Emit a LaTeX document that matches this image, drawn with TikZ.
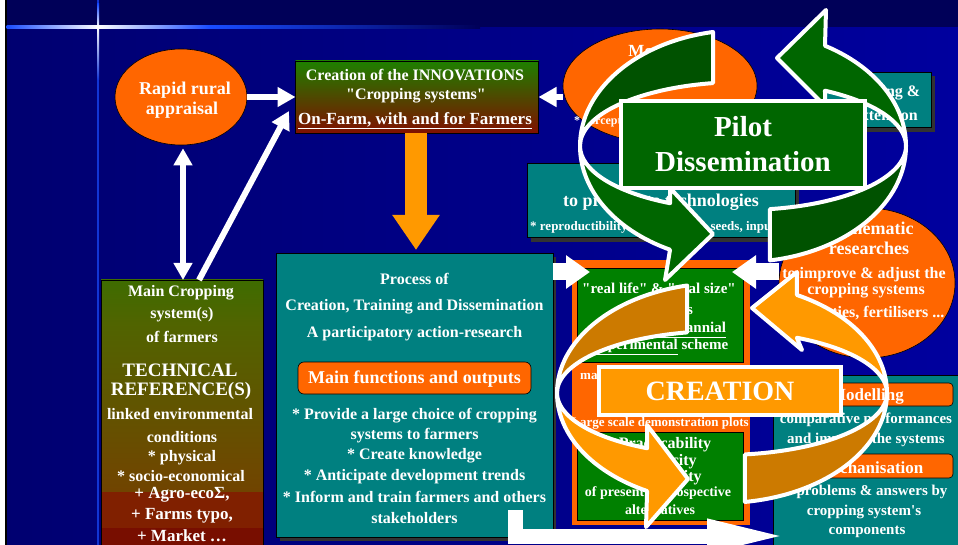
\documentclass[tikz,border=0pt]{standalone}
\usepackage{fontspec}
\setmainfont{Liberation Serif}
\usetikzlibrary{arrows.meta,shapes.geometric,calc}
\newcommand{\setfs}[1]{\fontsize{#1}{#1}\selectfont}
\newcommand{\dq}{\XeTeXglyph\XeTeXcharglyph"22\relax}
\newcommand{\sq}{\XeTeXglyph\XeTeXcharglyph"27\relax}
\definecolor{bgtop}{RGB}{0,0,88}
\definecolor{bgleft}{RGB}{0,0,112}
\definecolor{bgright}{RGB}{0,0,158}
\definecolor{sparkb}{RGB}{25,75,255}
\definecolor{tealc}{RGB}{0,128,128}
\definecolor{orng}{RGB}{255,102,0}
\definecolor{ltorng}{RGB}{255,153,0}
\definecolor{dkorng}{RGB}{204,122,0}
\definecolor{grn}{RGB}{0,128,0}
\definecolor{pgreen}{RGB}{0,102,0}
\definecolor{pdark}{RGB}{0,82,0}
\definecolor{shadowc}{RGB}{50,50,50}
\definecolor{cgTop}{RGB}{30,128,0}
\definecolor{cgMid}{RGB}{95,90,0}
\definecolor{cgBot}{RGB}{128,16,0}
\definecolor{mc1}{RGB}{18,128,0}
\definecolor{mc2}{RGB}{80,100,0}
\definecolor{mc3}{RGB}{110,72,0}
\definecolor{mc4}{RGB}{122,46,0}
\definecolor{mcr1}{RGB}{128,32,0}
\definecolor{mcr2}{RGB}{120,14,0}
\pgfdeclareverticalshading{mcsh}{100bp}{color(0bp)=(mc4); color(30bp)=(mc3); color(65bp)=(mc2); color(100bp)=(mc1)}
\begin{document}
\begin{tikzpicture}[x=1pt,y=-1pt,
  tx/.style={text=white,inner sep=0pt,align=center},
  fb/.style={tx,font=\bfseries\setfs{#1}},
  warrow/.style={draw=white,line width=6pt,-{Triangle[length=18pt,width=19pt]}},
  wdarrow/.style={draw=white,line width=6pt,{Triangle[length=17pt,width=18pt]}-{Triangle[length=17pt,width=18pt]}},
  bigw/.style={draw=white,line width=17pt,-{Triangle[length=24pt,width=32pt]}},
  ringline/.style={draw=white,line width=4pt,line join=round},
  tealbox/.style={fill=tealc,draw=black,line width=0.6pt,inner sep=0pt},
  plain/.style={inner sep=0pt,outer sep=0pt}]
\useasboundingbox (0,0) rectangle (958,545);
\begin{scope}
\clip (0,0) rectangle (958,545);
% ---------- background ----------
\shade[left color=bgleft,right color=bgright] (0,27) rectangle (958,545);
\fill[bgtop] (0,0) rectangle (958,27);
\fill[white] (0,0) rectangle (5,545);
\fill[black] (5,0) rectangle (6.5,545);
\fill[sparkb!70!bgleft] (97.3,0) rectangle (98.7,545);
\shade[left color=sparkb,right color=white] (6.5,26) rectangle (98,28.4);
\shade[left color=white,right color=sparkb] (98,26) rectangle (210,28.4);
\shade[left color=sparkb,right color=bgtop] (210,26) rectangle (480,28.4);
\shade[top color=sparkb,bottom color=white] (97,4) rectangle (99,27);
\shade[top color=white,bottom color=sparkb!70!bgleft] (97,27) rectangle (99,80);
\fill[white] (98,27.2) circle (2.2);

% ---------- left column ----------
\node[ellipse,fill=orng,draw=black,line width=0.6pt,minimum width=132pt,minimum height=96pt,inner sep=0pt] (rra) at (181,97) {};
\node[fb=18] (rra1) at (185,90) {Rapid rural};
\node[fb=18] (rra2) at (182,110) {appraisal};

\node[plain,minimum width=243pt,minimum height=72pt,top color=cgTop,middle color=cgMid,bottom color=cgBot,draw=black,line width=0.6pt] (creat) at (417,97) {};
\node[fb=16] (ct1) at (415,75) {Creation of the INNOVATIONS};
\node[fb=16] (ct2) at (416,96) {\dq Cropping systems\dq};
\node[fb=17] (ct3) at (415,121) {\underline{On-Farm, with and for Farmers}};

\shade[shading=mcsh] (101,280) rectangle (263,492);
\fill[mcr1] (101,492) rectangle (263,528);
\fill[mcr2] (101,528) rectangle (263,545);
\node[plain,minimum width=162pt,minimum height=266pt,draw=black,line width=0.6pt] (mcs) at (182,413) {};
\node[fb=16] (m1) at (181,293) {Main Cropping};
\node[fb=16] (m2) at (182,315) {system(s)};
\node[fb=16] (m3) at (182,337) {of farmers};
\node[fb=19] (m4) at (180,370) {TECHNICAL};
\node[fb=19] (m5) at (181,391) {REFERENCE(S)};
\node[fb=16] (m6) at (180,414) {linked environmental};
\node[fb=16] (m7) at (182,437) {conditions};
\node[fb=16] (m8) at (182,458) {* physical};
\node[fb=16] (m9) at (181,476) {* socio-economical};
\node[fb=17] (m10) at (182,495) {+ Agro-ecoΣ,};
\node[fb=17] (m11) at (182,516) {+ Farms typo,};
\node[fb=17] (m12) at (182,536) {+ Market …};

\draw[warrow] (rra.east) -- (creat.west);
\draw[wdarrow,shorten <=3pt] (rra.south -| 183,0) -- (183,280);
\coordinate (dtip) at (289,111);
\draw[warrow] ($(mcs.north)+(17,0)$) -- (dtip);

% ---------- process box ----------
\fill[shadowc] (280,257) rectangle (556,541);
\node[tealbox,minimum width=277pt,minimum height=284pt] (proc) at (414.5,395) {};
\node[fb=16] (p1) at (414.5,279) {Process of};
\node[fb=16] (p2) at (414.5,307) {Creation, Training and Dissemination};
\node[fb=16] (p3) at (414.5,334) {A participatory action-research};
\node[plain,fill=orng,draw=black,line width=0.6pt,rounded corners=6pt,minimum width=233pt,minimum height=32pt] (mfo) at (414.5,378) {};
\node[fb=18] (mfot) at (414.5,379) {Main functions and outputs};
\node[fb=16] (b1) at (414.5,416) {* Provide a large choice of cropping};
\node[fb=16] (b2) at (414.5,436) {systems to farmers};
\node[fb=16] (b3) at (414.5,456) {* Create knowledge};
\node[fb=16] (b4) at (414.5,477) {* Anticipate development trends};
\node[fb=16] (b5) at (414.5,497) {* Inform and train farmers and others};
\node[fb=16] (b6) at (414.5,518) {stakeholders};

\coordinate (otip) at (416,250);
\draw[draw=ltorng,line width=22pt,-{Triangle[length=35pt,width=45pt]}] (creat.south -| otip) -- (otip);

% ---------- top right items ----------
\node[ellipse,fill=orng,draw=black,line width=0.6pt,minimum width=194pt,minimum height=114pt,inner sep=0pt] (tell) at (660,86) {};
\node[fb=17] (tell1) at (670,52) {Monitoring};
\node[fb=12,anchor=west] (tell2) at (574,122) {* perception of farmers};
\draw[warrow] (tell.west |- creat.east) -- (creat.east);

\fill[shadowc] (821,76) rectangle (935,132);
\node[tealbox,minimum width=114pt,minimum height=55pt] (trb) at (874,99.5) {};
\node[fb=16] (trb1) at (882,93) {Training \&};
\node[fb=16] (trb2) at (884,115) {Extension};

\fill[shadowc] (531,167) rectangle (799,242);
\node[tealbox,minimum width=268pt,minimum height=74pt] (tpb) at (661,200) {};
\node[fb=18] (tp1) at (661,202) {to propagate technologies};
\node[fb=13,anchor=west] (tp2) at (530,227) {* reproductibility of techniques, seeds, inputs ...};

\node[ellipse,fill=orng,draw=black,line width=0.6pt,minimum width=176pt,minimum height=150pt,inner sep=0pt] (rell) at (867,283) {};
\node[fb=18] (r1) at (877,228) {Thematic};
\node[fb=18] (r2) at (869,248) {researches};
\node[fb=16] (r3) at (864,275) {to improve \& adjust the};
\node[fb=16] (r4) at (866,291) {cropping systems};
\node[fb=16] (r5) at (871,313) {varieties, fertilisers ...};

% ---------- central frame ----------
\node[plain,fill=orng,minimum width=178pt,minimum height=265pt] (frm) at (661,392.5) {};
\node[plain,fill=grn,draw=black,line width=0.6pt,minimum width=166pt,minimum height=94pt] (g1) at (660,315) {};
\node[plain,fill=grn,draw=black,line width=0.6pt,minimum width=166pt,minimum height=88pt] (g2) at (660,476) {};
\node[fb=15] (g1a) at (659,288) {\dq real life\dq{} \& \dq real size\dq};
\node[fb=15] (g1b) at (660,309) {conditions};
\node[fb=15] (g1c) at (658,330) {On-farm, \underline{pluriannial}};
\node[fb=15] (g1d) at (661,347) {\underline{experimental} scheme};
\node[fb=13,anchor=west] (fm1) at (580,375) {main};
\node[fb=13] (fm2) at (660,423) {Large scale demonstration plots};
\node[fb=16] (g2a) at (665,445) {Practicability};
\node[fb=16] (g2b) at (662,462) {Simplicity};
\node[fb=16] (g2c) at (660,478) {Profitability};
\node[fb=14] (g2d) at (658,493) {of present \& prospective};
\node[fb=14] (g2e) at (660,510) {alternatives};

% ---------- bottom right box ----------
\node[tealbox,minimum width=190pt,minimum height=176pt] (rbt) at (868,463) {};
\node[plain,fill=orng,draw=black,line width=0.6pt,rounded corners=4pt,minimum width=176pt,minimum height=23pt] (mod) at (865,394.5) {};
\node[fb=17] (modt) at (867,396) {Modelling};
\node[fb=15] (rb1) at (866,420) {comparative performances};
\node[fb=15] (rb2) at (866,440) {and improve the systems};
\node[plain,fill=orng,draw=black,line width=0.6pt,rounded corners=4pt,minimum width=176pt,minimum height=24pt] (mec) at (865,466) {};
\node[fb=17] (mect) at (870,468) {Mechanisation};
\node[fb=15] (rb3) at (872,492) {problems \& answers by};
\node[fb=15] (rb4) at (864,512) {cropping system\sq s};
\node[fb=15] (rb5) at (867,532) {components};

% ---------- white arrows ----------
\coordinate (fl) at (590,272);
\coordinate (fr) at (732,272);
\draw[bigw] (proc.east |- fl) -- (fl);
\draw[bigw] (rell.west |- fr) -- (fr);
\coordinate (bl) at (515.5,510);
\coordinate (blend) at (790,536);
\draw[draw=white,line width=15pt,line join=miter,-{Triangle[length=83pt,width=30pt]}] (bl) |- (blend);

% ---------- green circular arrows ----------
\begin{scope}[shift={(743,146)}]
\filldraw[ringline,fill=pdark] (259.4:163 and 116) arc[start angle=259.4,end angle=180,x radius=163,y radius=116]
  arc[start angle=180,end angle=259.4,x radius=163,y radius=64] -- cycle;
\filldraw[ringline,fill=pgreen] (180:163 and 116) arc[start angle=180,end angle=116.6,x radius=163,y radius=116]
  -- (-78,134) -- (-30,88) -- (-73,42) -- (116.6:163 and 64)
  arc[start angle=116.6,end angle=180,x radius=163,y radius=64] -- cycle;
\filldraw[ringline,fill=pdark] (80.5:163 and 116) arc[start angle=80.5,end angle=0,x radius=163,y radius=116]
  arc[start angle=0,end angle=80.5,x radius=163,y radius=64] -- cycle;
\filldraw[ringline,fill=pgreen] (0:163 and 116) arc[start angle=0,end angle=-59.8,x radius=163,y radius=116]
  -- (83,-136) -- (34,-88) -- (82,-40) -- (-59.8:163 and 64)
  arc[start angle=-59.8,end angle=0,x radius=163,y radius=64] -- cycle;
\end{scope}

% ---------- orange circular arrows ----------
\begin{scope}[shift={(722,393)}]
\filldraw[ringline,fill=dkorng] (257.8:165 and 110) arc[start angle=257.8,end angle=180,x radius=165,y radius=110]
  arc[start angle=180,end angle=257.8,x radius=165,y radius=62] -- cycle;
\filldraw[ringline,fill=ltorng] (180:165 and 110) arc[start angle=180,end angle=117,x radius=165,y radius=110]
  -- (-76,134) -- (-34,86) -- (-75,32) -- (117:165 and 62)
  arc[start angle=117,end angle=180,x radius=165,y radius=62] -- cycle;
\filldraw[ringline,fill=dkorng] (82:165 and 110) arc[start angle=82,end angle=0,x radius=165,y radius=110]
  arc[start angle=0,end angle=82,x radius=165,y radius=62] -- cycle;
\filldraw[ringline,fill=ltorng] (0:165 and 110) arc[start angle=0,end angle=-63,x radius=165,y radius=110]
  -- (75,-121) -- (30,-85) -- (80,-43) -- (-63:165 and 62)
  arc[start angle=-63,end angle=0,x radius=165,y radius=62] -- cycle;
\end{scope}

% ---------- labels ----------
\node[plain,draw=white,line width=4pt,fill=pgreen,minimum width=244pt,minimum height=87pt,text=white,align=center,font=\bfseries\fontsize{29}{35}\selectfont] (pilot) at (743,144.5) {Pilot\\Dissemination};
\node[plain,draw=white,line width=4pt,fill=ltorng,minimum width=242pt,minimum height=48pt,text=white,font=\bfseries\setfs{28}] (creation) at (720,391) {CREATION};
\end{scope}
\end{tikzpicture}
\end{document}
